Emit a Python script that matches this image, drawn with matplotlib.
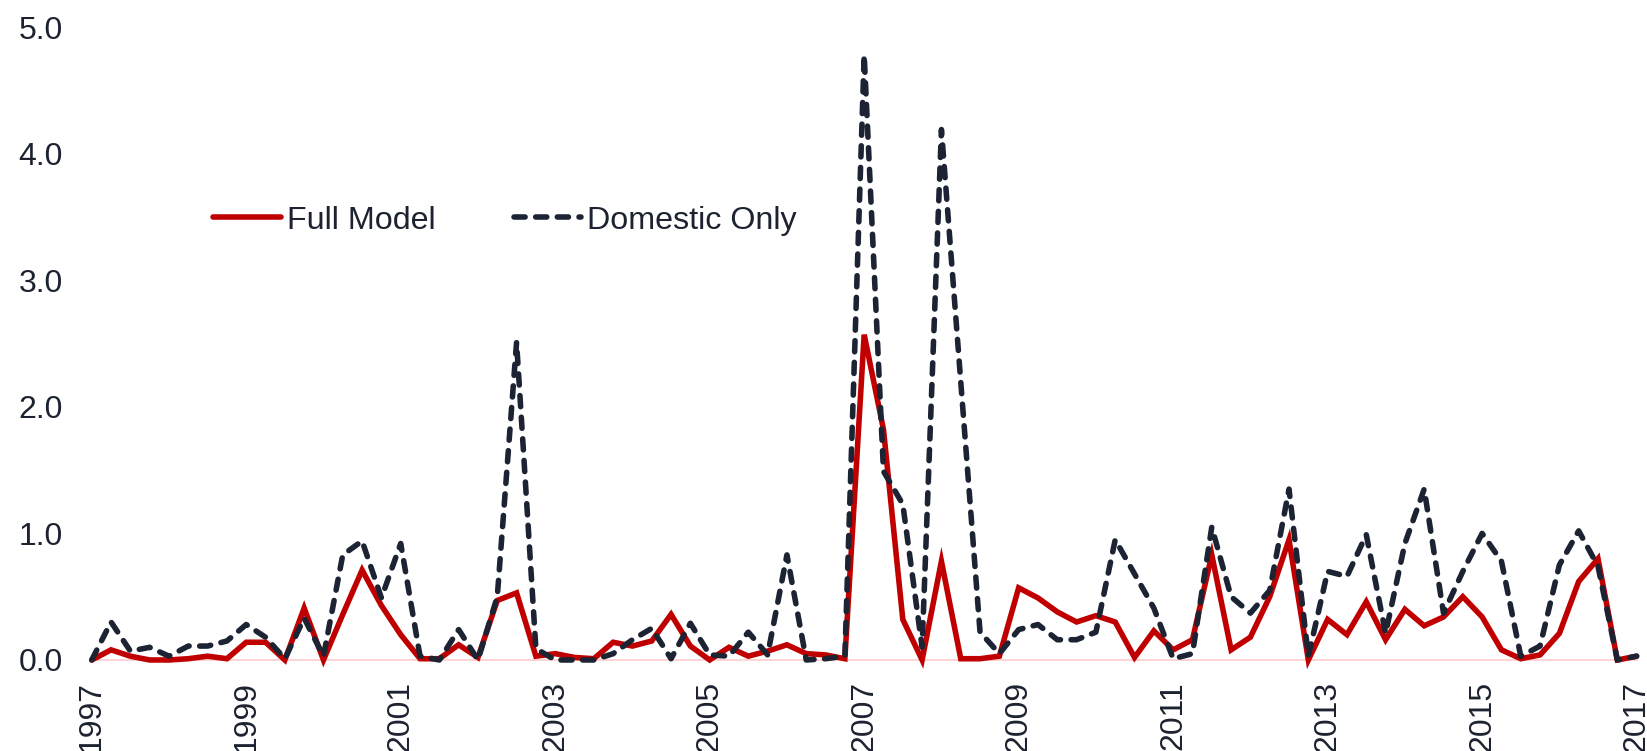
import matplotlib.pyplot as plt
import numpy as np

plt.rcParams['font.family'] = ['Liberation Sans', 'DejaVu Sans']

# quarterly observations, 1997Q1 .. 2017Q1
quarters = np.arange(81)
tick_years = [1997, 1999, 2001, 2003, 2005, 2007, 2009, 2011, 2013, 2015, 2017]

full_model = [
    0.00, 0.08, 0.03, 0.00, 0.00, 0.01, 0.03, 0.01,
    0.14, 0.14, 0.00, 0.41, 0.00, 0.36, 0.71, 0.43,
    0.20, 0.01, 0.01, 0.12, 0.02, 0.47, 0.53, 0.03,
    0.05, 0.02, 0.01, 0.14, 0.11, 0.15, 0.36, 0.11,
    0.00, 0.10, 0.03, 0.07, 0.12, 0.05, 0.04, 0.01,
    2.57, 1.82, 0.32, 0.00, 0.78, 0.01, 0.01, 0.03,
    0.57, 0.49, 0.38, 0.30, 0.35, 0.30, 0.02, 0.23,
    0.08, 0.16, 0.83, 0.08, 0.18, 0.50, 0.95, 0.00,
    0.32, 0.20, 0.46, 0.16, 0.40, 0.27, 0.34, 0.50,
    0.34, 0.08, 0.01, 0.04, 0.21, 0.62, 0.80, 0.00,
    0.03,
]
domestic_only = [
    0.00, 0.30, 0.07, 0.10, 0.03, 0.11, 0.11, 0.15,
    0.28, 0.18, 0.01, 0.33, 0.03, 0.83, 0.94, 0.49,
    0.92, 0.03, 0.00, 0.24, 0.00, 0.50, 2.51, 0.09,
    0.00, 0.00, 0.00, 0.05, 0.16, 0.25, 0.01, 0.29,
    0.04, 0.03, 0.22, 0.04, 0.83, 0.00, 0.01, 0.03,
    4.78, 1.49, 1.23, 0.10, 4.19, 2.20, 0.22, 0.05,
    0.24, 0.28, 0.16, 0.16, 0.22, 0.95, 0.68, 0.41,
    0.01, 0.05, 1.05, 0.50, 0.37, 0.55, 1.35, 0.03,
    0.70, 0.66, 0.99, 0.21, 0.92, 1.35, 0.37, 0.70,
    1.00, 0.78, 0.03, 0.11, 0.75, 1.02, 0.74, 0.00,
    0.03,
]

text_col = '#1c2230'
red = '#c00000'
navy = '#1c2333'

fig = plt.figure(figsize=(16.47, 7.51), dpi=100)
ax = fig.add_axes([0.0557, 0.1212, 0.938, 0.8428])

ax.plot(quarters, full_model, color=red, lw=4.0, label='Full Model',
        solid_capstyle='round', solid_joinstyle='miter', clip_on=False)
ax.plot(quarters, domestic_only, color=navy, lw=4.0, label='Domestic Only',
        linestyle=(0, (2.0, 1.9)), dash_capstyle='round', clip_on=False)

ax.set_xlim(0, 80)
ax.set_ylim(0, 5)
ax.set_xticks(np.arange(0, 81, 8))
ax.set_xticklabels([str(y) for y in tick_years], rotation=90)
ax.set_yticks(np.arange(0, 5.1, 1))
ax.set_yticklabels([f'{v:.1f}' for v in np.arange(0, 5.1, 1)])
ax.tick_params(axis='x', length=0, pad=15, labelsize=23, labelcolor=text_col)
ax.tick_params(axis='y', length=0, pad=21, labelsize=23, labelcolor=text_col)

for s in ['top', 'right', 'left']:
    ax.spines[s].set_visible(False)
ax.spines['bottom'].set_color('#ffcccc')
ax.spines['bottom'].set_linewidth(1.2)
ax.spines['bottom'].set_zorder(0)

leg = fig.legend(loc='center left', bbox_to_anchor=(0.1295, 0.7063), ncol=2,
                 frameon=False, fontsize=23.2, handlelength=2.1,
                 handletextpad=0.18, columnspacing=2.43, borderpad=0,
                 borderaxespad=0)
for t in leg.get_texts():
    t.set_color(text_col)

fig.savefig('out.png', dpi=100)
